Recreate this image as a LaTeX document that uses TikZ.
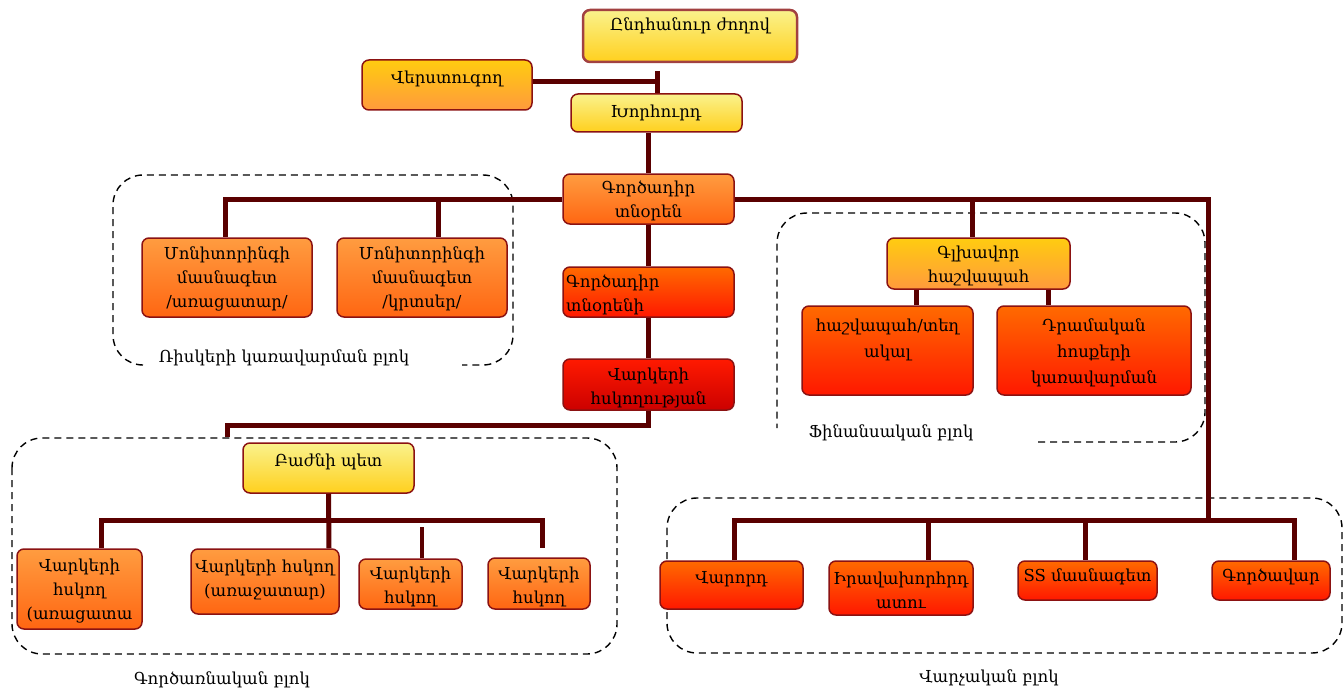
\documentclass[tikz,border=0pt]{standalone}
\usepackage{fontspec}
\setmainfont{DejaVu Serif}
\definecolor{connc}{HTML}{5A0000}
\definecolor{bordc}{HTML}{8B1212}
\definecolor{yelT}{HTML}{FAF28C}
\definecolor{yelB}{HTML}{FFD01E}
\definecolor{golT}{HTML}{FFCC10}
\definecolor{golB}{HTML}{FF9A3C}
\definecolor{orT}{HTML}{FF9C40}
\definecolor{orB}{HTML}{FF6612}
\definecolor{roT}{HTML}{FF6A00}
\definecolor{roB}{HTML}{FF1800}
\definecolor{rdT}{HTML}{FF1A00}
\definecolor{rdB}{HTML}{CC0000}
\tikzset{
  conn/.style={draw=connc, line width=5pt},
  bx/.style={draw=bordc, line width=1.5pt, rounded corners=7pt, inner sep=0pt},
  yel/.style={bx, top color=yelT, bottom color=yelB},
  gol/.style={bx, top color=golT, bottom color=golB},
  orb/.style={bx, top color=orT, bottom color=orB},
  rob/.style={bx, top color=roT, bottom color=roB},
  rdb/.style={bx, top color=rdT, bottom color=rdB},
  txt/.style={font=\fontsize{16.5}{24}\selectfont, align=center, inner sep=0pt, text=black},
  blk/.style={draw=black, line width=1.4pt, dash pattern=on 7pt off 5pt, rounded corners=30pt}
}
\begin{document}
\begin{tikzpicture}[x=1pt,y=-1pt]
\useasboundingbox (0,0) rectangle (1344,690);
% dashed blocks
\draw[blk] (143,365) -| (113,175) -| (513,365) -- (462,365);
\draw[blk] (1038,442) -| (1205,213) -| (777,428);
\draw[blk] (12,438) rectangle (617,654);
\draw[blk] (667,498) rectangle (1342,653);
% boxes
\node[yel, draw=bordc!80, line width=2.5pt, minimum width=214, minimum height=52] (top) at (690,36) {};
\node[gol, minimum width=170, minimum height=50] (ver) at (447,85) {};
\node[yel, minimum width=171, minimum height=38] (kh) at (656.5,113) {};
\node[orb, minimum width=171, minimum height=50] (gt) at (648.5,199) {};
\node[orb, minimum width=170, minimum height=79] (m1) at (227,277.5) {};
\node[orb, minimum width=170, minimum height=79] (m2) at (422,277.5) {};
\node[rob, minimum width=171, minimum height=50] (gt2) at (648.5,292) {};
\node[rdb, minimum width=171, minimum height=51] (vh) at (648.5,384.5) {};
\node[gol, minimum width=183, minimum height=51] (gl) at (978.5,263.5) {};
\node[rob, minimum width=171, minimum height=89] (h1) at (887.5,350.5) {};
\node[rob, minimum width=194, minimum height=89] (dr) at (1094,350.5) {};
\node[yel, minimum width=171, minimum height=50] (bp) at (328.5,468) {};
\node[orb, minimum width=125, minimum height=80] (b1) at (79.5,589) {};
\node[orb, minimum width=148, minimum height=65] (b2) at (265,581.5) {};
\node[orb, minimum width=103, minimum height=50] (b3) at (410.5,584) {};
\node[orb, minimum width=102, minimum height=51] (b4) at (539,583.5) {};
\node[rob, minimum width=143, minimum height=48] (vd) at (731.5,585) {};
\node[rob, minimum width=144, minimum height=54] (ir) at (901,588) {};
\node[rob, minimum width=139, minimum height=39] (ss) at (1087.5,580.5) {};
\node[rob, minimum width=118, minimum height=39] (gv) at (1271,580.5) {};
% coordinates
\coordinate (tj) at (657,82);
\coordinate (rj) at (1208,199);
\coordinate (aj) at (1208,520);
\coordinate (opsin) at (227,437);
\coordinate (ob4h) at (542,520);
\coordinate (ob4e) at (542,548);
\coordinate (b3top) at (422,527);
\path ([xshift=-6.5]gl.north) coordinate (gld);
\path ([xshift=16]m2.north) coordinate (m2d);
\path ([xshift=-2]m1.north) coordinate (m1d);
\path ([xshift=28.5]h1.north) coordinate (h1d);
\path ([xshift=-46]dr.north) coordinate (drd);
\path ([xshift=21.5]b1.north) coordinate (b1d);
\path ([xshift=64]b2.north) coordinate (b2d);
\path ([xshift=11.5]b3.north) coordinate (b3d);
\path ([xshift=2.5]vd.north) coordinate (vdd);
\path ([xshift=27]ir.north) coordinate (ird);
\path ([xshift=-2.5]ss.north) coordinate (ssd);
\path ([xshift=23]gv.north) coordinate (gvd);
% connectors
\draw[conn] (ver.east |- tj) -- (tj);
\draw[conn] ([yshift=11]tj) -- ([yshift=-11]tj);
\draw[conn] (gt.north |- kh.south) -- (gt.north);
\draw[conn] (gt.west) -| (m1d);
\draw[conn] (m2d |- gt.west) -- (m2d);
\draw[conn] (gt.east) -| (aj);
\draw[conn] (gld |- rj) -- (gld);
\draw[conn] (gt.south) -- (gt2.north);
\draw[conn] (gt2.south) -- (vh.north);
\draw[conn] (vh.south) -- ++(0,15) -| (opsin);
\draw[conn] (h1d |- gl.south) -- (h1d);
\draw[conn] (drd |- gl.south) -- (drd);
\draw[conn] (bp.south) -- (b2d);
\draw[conn] (b1d) |- (ob4h) -- (ob4e);
\draw[conn, line width=4pt] (b3d) -- (b3top);
\draw[conn] (vdd) |- (gvd |- aj) -- (gvd);
\draw[conn] (ird |- aj) -- (ird);
\draw[conn] (ssd |- aj) -- (ssd);
% texts
\node[txt] (t-top) at (690,26) {Ընդհանուր ժողով};
\node[txt] (t-ver) at (447,79) {Վերստուգող};
\node[txt] (t-kh) at (656,113) {Խորհուրդ};
\node[txt] (t-gt) at (648.5,201) {Գործադիր\\տնօրեն};
\node[txt] (t-m1) at (227,279) {Մոնիտորինգի\\մասնագետ\\/առացատար/};
\node[txt] (t-m2) at (422,279) {Մոնիտորինգի\\մասնագետ\\/կրտսեր/};
\node[txt, align=left, anchor=west] (t-gt2) at (566,295) {Գործադիր\\տնօրենի};
\node[txt] (t-vh) at (648.5,388) {Վարկերի\\հսկողության};
\node[txt] (t-gl) at (978.5,266) {Գլխավոր\\հաշվապահ};
\node[txt, font=\fontsize{16.5}{26}\selectfont] (t-h1) at (887.5,340) {հաշվապահ/տեղ\\ակալ};
\node[txt, font=\fontsize{16.5}{26}\selectfont] (t-dr) at (1094,353) {Դրամական\\հոսքերի\\կառավարման};
\node[txt] (t-bp) at (328.5,462) {Բաժնի պետ};
\node[txt] (t-b1) at (79.5,591) {Վարկերի\\հսկող\\(առացատա};
\node[txt] (t-b2) at (265,580) {Վարկերի հսկող\\(առաջատար)};
\node[txt] (t-b3) at (410.5,587) {Վարկերի\\հսկող};
\node[txt] (t-b4) at (539,587) {Վարկերի\\հսկող};
\node[txt] (t-vd) at (731.5,579) {Վարորդ};
\node[txt] (t-ir) at (901,590) {Իրավախորհրդ\\ատու};
\node[txt] (t-ss) at (1087.5,577) {SS մասնագետ};
\node[txt] (t-gv) at (1271,577) {Գործավար};
\node[txt] (l-risk) at (284,358) {Ռիսկերի կառավարման բլոկ};
\node[txt] (l-fin) at (891,433) {Ֆինանսական բլոկ};
\node[txt] (l-ops) at (222,680) {Գործառնական բլոկ};
\node[txt] (l-adm) at (989,678) {Վարչական բլոկ};
\end{tikzpicture}
\end{document}
